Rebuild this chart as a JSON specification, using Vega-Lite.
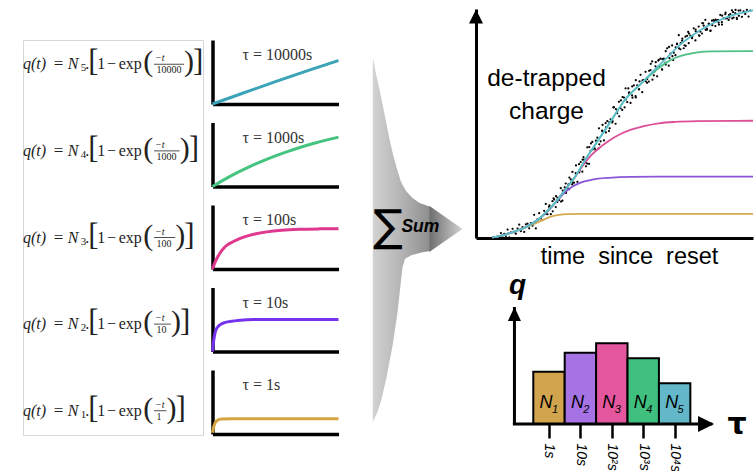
{
"$schema": "https://vega.github.io/schema/vega-lite/v6.json",
"background": "white",
"padding": {"left": 22, "top": 6, "right": 0, "bottom": 0},
"spacing": 0,
"resolve": {"scale": {"color": "independent"}},
"config": {
  "view": {"stroke": "transparent"},
  "axis": {"grid": false, "ticks": false, "labels": false, "domainColor": "#000", "domainWidth": 3, "domainCap": "butt"}
},
"hconcat": [
{
  "spacing": 10,
  "vconcat": [
    {"width": 10, "height": 20, "data": {"values": []}, "mark": "point"},
    {
      "spacing": 1.5,
      "hconcat": [
        {
          "width": 180, "height": 395,
          "view": {"stroke": "#d6d6d6", "strokeWidth": 1},
          "data": {"values": [
            {"n": "5", "den": "10000", "digits": 5},
            {"n": "4", "den": "1000", "digits": 4},
            {"n": "3", "den": "100", "digits": 3},
            {"n": "2", "den": "10", "digits": 2},
            {"n": "1", "den": "1", "digits": 1}
          ]},
          "encoding": {"y": {"field": "n", "type": "ordinal", "sort": "descending", "scale": {"type": "point", "padding": 0.28}, "axis": null}},
          "layer": [
            {"mark": {"type": "text", "text": "q(t)", "font": "Liberation Serif", "fontSize": 16, "fontStyle": "italic", "align": "left", "baseline": "middle", "color": "#222"}, "encoding": {"x": {"value": 0}}},
            {"mark": {"type": "text", "text": "=", "font": "Liberation Serif", "fontSize": 17, "align": "center", "baseline": "middle", "color": "#222"}, "encoding": {"x": {"value": 35.5}}},
            {"mark": {"type": "text", "text": "N", "font": "Liberation Serif", "fontSize": 16, "fontStyle": "italic", "align": "center", "baseline": "middle", "color": "#222"}, "encoding": {"x": {"value": 50}}},
            {"mark": {"type": "text", "font": "Liberation Serif", "fontSize": 11, "align": "center", "baseline": "middle", "dy": 4, "color": "#222"}, "encoding": {"x": {"value": 60.5}, "text": {"field": "n"}}},
            {"mark": {"type": "text", "text": ".", "font": "Liberation Serif", "fontSize": 16, "align": "center", "baseline": "middle", "color": "#222"}, "encoding": {"x": {"value": 64.3}}},
            {"mark": {"type": "text", "text": "[", "font": "Liberation Serif", "fontSize": 31, "align": "center", "baseline": "middle", "dy": -2, "color": "#222"}, "encoding": {"x": {"value": 70.5}}},
            {"mark": {"type": "text", "text": "1", "font": "Liberation Serif", "fontSize": 16, "align": "center", "baseline": "middle", "color": "#222"}, "encoding": {"x": {"value": 78.3}}},
            {"mark": {"type": "text", "text": "−", "font": "Liberation Serif", "fontSize": 16, "align": "center", "baseline": "middle", "color": "#222"}, "encoding": {"x": {"value": 88.5}}},
            {"mark": {"type": "text", "text": "exp", "font": "Liberation Serif", "fontSize": 16, "align": "center", "baseline": "middle", "color": "#222"}, "encoding": {"x": {"value": 107.2}}},
            {"mark": {"type": "text", "text": "(", "font": "Liberation Serif", "fontSize": 30, "align": "center", "baseline": "middle", "dy": -2, "color": "#222"}, "encoding": {"x": {"value": 125.3}}},
            {"mark": {"type": "text", "text": "−t", "font": "Liberation Serif", "fontSize": 10, "fontStyle": "italic", "align": "left", "baseline": "middle", "dy": -6, "color": "#222"}, "encoding": {"x": {"value": 132}}},
            {"mark": {"type": "rule", "strokeWidth": 0.8, "color": "#222"}, "encoding": {"x": {"field": "digits", "type": "quantitative", "scale": {"domain": [1, 5], "range": [143.5, 161], "nice": false}, "axis": null}, "x2": {"value": 131}}},
            {"mark": {"type": "text", "font": "Liberation Serif", "fontSize": 10, "align": "left", "baseline": "middle", "dy": 6, "color": "#222"}, "encoding": {"x": {"value": 133.5}, "text": {"field": "den"}}},
            {"mark": {"type": "text", "text": ")", "font": "Liberation Serif", "fontSize": 30, "align": "left", "baseline": "middle", "dy": -2, "color": "#222"}, "encoding": {"x": {"field": "digits", "type": "quantitative", "scale": {"domain": [1, 5], "range": [143.5, 161], "nice": false}, "axis": null}}},
            {"mark": {"type": "text", "text": "]", "font": "Liberation Serif", "fontSize": 31, "align": "left", "baseline": "middle", "dx": 9, "dy": -2, "color": "#222"}, "encoding": {"x": {"field": "digits", "type": "quantitative", "scale": {"domain": [1, 5], "range": [143.5, 161], "nice": false}, "axis": null}}}
          ]
        },
        {
          "spacing": 10.5,
          "resolve": {"axis": {"x": "independent", "y": "independent"}},
          "data": {"values": [
            {"tau": "10000", "t": 0, "q": 0, "label": "τ = 10000s"},
            {"tau": "10000", "t": 250, "q": 0.176},
            {"tau": "10000", "t": 500, "q": 0.349},
            {"tau": "10000", "t": 750, "q": 0.518},
            {"tau": "10000", "t": 1000, "q": 0.68},
            {"tau": "1000", "t": 0, "q": 0, "label": "τ = 1000s"},
            {"tau": "1000", "t": 100, "q": 0.116},
            {"tau": "1000", "t": 200, "q": 0.221},
            {"tau": "1000", "t": 300, "q": 0.316},
            {"tau": "1000", "t": 400, "q": 0.402},
            {"tau": "1000", "t": 500, "q": 0.48},
            {"tau": "1000", "t": 600, "q": 0.55},
            {"tau": "1000", "t": 700, "q": 0.614},
            {"tau": "1000", "t": 800, "q": 0.672},
            {"tau": "1000", "t": 900, "q": 0.724},
            {"tau": "1000", "t": 1000, "q": 0.771},
            {"tau": "100", "t": 0, "q": 0, "label": "τ = 100s"},
            {"tau": "100", "t": 15, "q": 0.08},
            {"tau": "100", "t": 35, "q": 0.166},
            {"tau": "100", "t": 60, "q": 0.25},
            {"tau": "100", "t": 87, "q": 0.32},
            {"tau": "100", "t": 120, "q": 0.38},
            {"tau": "100", "t": 167, "q": 0.43},
            {"tau": "100", "t": 220, "q": 0.48},
            {"tau": "100", "t": 299, "q": 0.53},
            {"tau": "100", "t": 432, "q": 0.58},
            {"tau": "100", "t": 550, "q": 0.605},
            {"tau": "100", "t": 696, "q": 0.62},
            {"tau": "100", "t": 850, "q": 0.627},
            {"tau": "100", "t": 1000, "q": 0.63},
            {"tau": "10", "t": 0, "q": 0, "label": "τ = 10s"},
            {"tau": "10", "t": 8, "q": 0.15},
            {"tau": "10", "t": 21, "q": 0.3},
            {"tau": "10", "t": 40, "q": 0.38},
            {"tau": "10", "t": 61, "q": 0.42},
            {"tau": "10", "t": 95, "q": 0.45},
            {"tau": "10", "t": 140, "q": 0.47},
            {"tau": "10", "t": 220, "q": 0.49},
            {"tau": "10", "t": 325, "q": 0.5},
            {"tau": "10", "t": 1000, "q": 0.5},
            {"tau": "1", "t": 0, "q": 0.02, "label": "τ = 1s"},
            {"tau": "1", "t": 10, "q": 0.12},
            {"tau": "1", "t": 30, "q": 0.2},
            {"tau": "1", "t": 70, "q": 0.235},
            {"tau": "1", "t": 150, "q": 0.24},
            {"tau": "1", "t": 1000, "q": 0.24}
          ]},
          "facet": {"row": {"field": "tau", "type": "ordinal", "sort": "descending", "header": {"title": null, "labels": false, "labelPadding": 0, "titlePadding": 0}}},
          "spec": {
            "width": 126, "height": 64,
            "layer": [
              {"mark": {"type": "line", "strokeWidth": 3, "interpolate": "monotone"},
               "encoding": {
                 "x": {"field": "t", "type": "quantitative", "scale": {"domain": [0, 1000], "nice": false}, "axis": {"title": null, "domainWidth": 3.5}},
                 "y": {"field": "q", "type": "quantitative", "scale": {"domain": [0, 1], "nice": false}, "axis": {"title": null, "domainWidth": 3.5}},
                 "color": {"field": "tau", "type": "nominal", "scale": {"domain": ["10000", "1000", "100", "10", "1"], "range": ["#3aa3b8", "#45c47f", "#e0388f", "#7633ee", "#d4a540"]}, "legend": null}
               }},
              {"transform": [{"filter": "isValid(datum.label)"}],
               "mark": {"type": "text", "font": "Liberation Serif", "fontSize": 16, "align": "left", "baseline": "middle", "color": "#333"},
               "encoding": {
                 "x": {"datum": 238, "type": "quantitative", "scale": {"domain": [0, 1000], "nice": false}, "axis": {"title": null, "domainWidth": 3.5}},
                 "y": {"datum": 0.76, "type": "quantitative", "scale": {"domain": [0, 1], "nice": false}, "axis": {"title": null, "domainWidth": 3.5}},
                 "text": {"field": "label"}
               }}
            ]
          }
        }
      ]
    }
  ]
},
{
  "width": 121, "height": 461,
  "layer": [
    {"data": {"values": [
      {"v": 89.15, "left": 25.4, "right": 25.6},
      {"v": 85.9, "left": 25.4, "right": 27.7},
      {"v": 82.65, "left": 25.4, "right": 30.2},
      {"v": 79.0, "left": 25.4, "right": 32.6},
      {"v": 75.5, "left": 25.4, "right": 35.0},
      {"v": 71.8, "left": 25.4, "right": 37.4},
      {"v": 68.5, "left": 25.4, "right": 39.9},
      {"v": 65.3, "left": 25.4, "right": 42.8},
      {"v": 62.5, "left": 25.4, "right": 45.7},
      {"v": 60.5, "left": 25.4, "right": 49.3},
      {"v": 59.0, "left": 25.4, "right": 54.0},
      {"v": 57.9, "left": 25.4, "right": 59.0},
      {"v": 57.3, "left": 25.4, "right": 64.7},
      {"v": 57.05, "left": 25.4, "right": 66.4},
      {"v": 47.5, "left": 25.4, "right": 66.4},
      {"v": 47.2, "left": 25.4, "right": 60.4},
      {"v": 46.6, "left": 25.4, "right": 53.2},
      {"v": 45.8, "left": 25.4, "right": 48.6},
      {"v": 44.0, "left": 25.4, "right": 46.8},
      {"v": 41.4, "left": 25.4, "right": 45.8},
      {"v": 34.3, "left": 25.4, "right": 43.2},
      {"v": 26.9, "left": 25.4, "right": 39.6},
      {"v": 19.7, "left": 25.4, "right": 35.0},
      {"v": 15.4, "left": 25.4, "right": 31.7},
      {"v": 12.6, "left": 25.4, "right": 28.8},
      {"v": 10.6, "left": 25.4, "right": 25.6}
    ]},
     "mark": {"type": "area", "orient": "horizontal", "fill": {"gradient": "linear", "x1": 0, "y1": 0, "x2": 1, "y2": 0, "stops": [{"offset": 0, "color": "#d2d2d2"}, {"offset": 0.5, "color": "#b4b4b4"}, {"offset": 1, "color": "#8e8e8e"}]}},
     "encoding": {
       "y": {"field": "v", "type": "quantitative", "scale": {"domain": [0, 100], "nice": false}, "axis": null},
       "x": {"field": "left", "type": "quantitative", "scale": {"domain": [6.12, 93.17], "nice": false}, "axis": null},
       "x2": {"field": "right"}
     }},
    {"data": {"values": [{"u": 66, "top": 57.3, "bot": 47.3}, {"u": 89.9, "top": 52.3, "bot": 52.3}]},
     "mark": {"type": "area", "fill": {"gradient": "linear", "x1": 0, "y1": 0, "x2": 1, "y2": 0, "stops": [{"offset": 0, "color": "#6e6e6e"}, {"offset": 1, "color": "#d2d2d2"}]}},
     "encoding": {
       "x": {"field": "u", "type": "quantitative", "scale": {"domain": [6.12, 93.17], "nice": false}, "axis": null},
       "y": {"field": "top", "type": "quantitative", "scale": {"domain": [0, 100], "nice": false}, "axis": null},
       "y2": {"field": "bot"}
     }},
    {"data": {"values": [{}]},
     "mark": {"type": "text", "text": "∑", "font": "DejaVu Sans", "fontSize": 44, "align": "center", "baseline": "middle", "color": "#000"},
     "encoding": {
       "x": {"datum": 36.2, "type": "quantitative", "scale": {"domain": [6.12, 93.17], "nice": false}, "axis": null},
       "y": {"datum": 52.5, "type": "quantitative", "scale": {"domain": [0, 100], "nice": false}, "axis": null}
     }},
    {"data": {"values": [{}]},
     "mark": {"type": "text", "text": "Sum", "font": "Liberation Sans", "fontSize": 17.5, "fontWeight": "bold", "fontStyle": "italic", "align": "left", "baseline": "middle", "color": "#000"},
     "encoding": {
       "x": {"datum": 46, "type": "quantitative", "scale": {"domain": [6.12, 93.17], "nice": false}, "axis": null},
       "y": {"datum": 52.8, "type": "quantitative", "scale": {"domain": [0, 100], "nice": false}, "axis": null}
     }}
  ]
},
{
  "spacing": 2,
  "resolve": {"scale": {"color": "independent"}},
  "vconcat": [
    {
      "width": 277, "height": 229,
      "layer": [
        {"data": {"values": [
          {"u":9.0,"v":2.14},{"u":9.6,"v":0.2},{"u":10.2,"v":1.8},{"u":10.8,"v":0.89},{"u":11.4,"v":3.7},{"u":12.0,"v":0.3},{"u":12.6,"v":2.43},{"u":13.2,"v":3.99},{"u":13.8,"v":2.46},{"u":14.4,"v":1.9},{"u":15.0,"v":4.15},{"u":15.6,"v":5.81},{"u":16.2,"v":2.96},{"u":16.8,"v":4.73},{"u":17.4,"v":2.67},{"u":18.0,"v":5.98},{"u":18.6,"v":6.31},{"u":19.2,"v":4.24},{"u":19.8,"v":6.55},{"u":20.4,"v":5.38},{"u":21.0,"v":10.13},{"u":21.6,"v":4.18},{"u":22.2,"v":8.13},{"u":22.8,"v":10.82},{"u":23.4,"v":8.53},{"u":24.0,"v":7.84},{"u":24.6,"v":11.85},{"u":25.2,"v":14.86},{"u":25.8,"v":10.37},{"u":26.4,"v":13.58},{"u":27.0,"v":10.39},{"u":27.6,"v":16.1},{"u":28.2,"v":16.81},{"u":28.8,"v":13.53},{"u":29.4,"v":17.54},{"u":30.0,"v":16.55},{"u":30.6,"v":21.76},{"u":31.2,"v":16.28},{"u":31.8,"v":20.69},{"u":32.4,"v":23.8},{"u":33.0,"v":21.77},{"u":33.6,"v":21.33},{"u":34.2,"v":25.6},{"u":34.8,"v":28.87},{"u":35.4,"v":24.15},{"u":36.0,"v":28.37},{"u":36.6,"v":24.52},{"u":37.2,"v":32.23},{"u":37.8,"v":33.19},{"u":38.4,"v":28.95},{"u":39.0,"v":34.19},{"u":39.6,"v":32.94},{"u":40.2,"v":39.62},{"u":40.8,"v":32.39},{"u":41.4,"v":38.02},{"u":42.0,"v":41.97},{"u":42.6,"v":39.16},{"u":43.2,"v":38.43},{"u":43.8,"v":43.8},{"u":44.4,"v":47.88},{"u":45.0,"v":42.22},{"u":45.6,"v":46.57},{"u":46.2,"v":42.6},{"u":46.8,"v":50.2},{"u":47.4,"v":51.04},{"u":48.0,"v":46.68},{"u":48.6,"v":51.81},{"u":49.2,"v":50.44},{"u":49.8,"v":57.12},{"u":50.4,"v":49.89},{"u":51.0,"v":55.52},{"u":51.6,"v":59.47},{"u":52.2,"v":56.66},{"u":52.8,"v":55.93},{"u":53.4,"v":61.3},{"u":54.0,"v":65.38},{"u":54.6,"v":59.34},{"u":55.2,"v":63.32},{"u":55.8,"v":58.97},{"u":56.4,"v":66.2},{"u":57.0,"v":66.66},{"u":57.6,"v":61.93},{"u":58.2,"v":66.68},{"u":58.8,"v":64.94},{"u":59.4,"v":71.27},{"u":60.0,"v":63.68},{"u":60.6,"v":68.97},{"u":61.2,"v":72.57},{"u":61.8,"v":69.41},{"u":62.4,"v":68.32},{"u":63.0,"v":73.35},{"u":63.6,"v":77.08},{"u":64.2,"v":71.03},{"u":64.8,"v":74.99},{"u":65.4,"v":70.63},{"u":66.0,"v":77.84},{"u":66.6,"v":78.29},{"u":67.2,"v":73.54},{"u":67.8,"v":78.28},{"u":68.4,"v":76.52},{"u":69.0,"v":82.83},{"u":69.6,"v":75.24},{"u":70.2,"v":80.51},{"u":70.8,"v":84.1},{"u":71.4,"v":80.92},{"u":72.0,"v":79.83},{"u":72.6,"v":84.84},{"u":73.2,"v":88.56},{"u":73.8,"v":82.38},{"u":74.4,"v":86.18},{"u":75.0,"v":82.86},{"u":75.6,"v":87.91},{"u":76.2,"v":88.28},{"u":76.8,"v":85.05},{"u":77.4,"v":88.39},{"u":78.0,"v":87.23},{"u":78.6,"v":91.58},{"u":79.2,"v":86.28},{"u":79.8,"v":89.89},{"u":80.4,"v":92.33},{"u":81.0,"v":90.1},{"u":81.6,"v":89.3},{"u":82.2,"v":92.73},{"u":82.8,"v":95.26},{"u":83.4,"v":90.96},{"u":84.0,"v":93.57},{"u":84.6,"v":90.43},{"u":85.2,"v":94.89},{"u":85.8,"v":95.11},{"u":86.4,"v":92.53},{"u":87.0,"v":95.07},{"u":87.6,"v":94.1},{"u":88.2,"v":97.4},{"u":88.8,"v":93.19},{"u":89.4,"v":95.92},{"u":90.0,"v":97.73},{"u":90.6,"v":95.91},{"u":91.2,"v":95.2},{"u":91.8,"v":97.79},{"u":92.4,"v":99.4},{"u":93.0,"v":96.24},{"u":93.6,"v":98.17},{"u":94.2,"v":95.63},{"u":94.8,"v":99.3},{"u":95.4,"v":99.37},{"u":96.0,"v":96.61},{"u":96.6,"v":98.97},{"u":97.2,"v":97.83},{"u":97.8,"v":99.6},{"u":98.4,"v":96.68},{"u":99.0,"v":99.28},
          {"u":25.3,"v":10.48},{"u":26.5,"v":14.3},{"u":27.7,"v":11.65},{"u":28.9,"v":18.28},{"u":30.1,"v":17.6},{"u":31.3,"v":20.73},{"u":32.5,"v":19.66},{"u":33.7,"v":26.39},{"u":34.9,"v":24.13},{"u":36.1,"v":28.05},{"u":37.3,"v":28.67},{"u":38.5,"v":34.22},{"u":39.7,"v":31.3},{"u":40.9,"v":39.72},{"u":42.1,"v":38.64},{"u":43.3,"v":42.51},{"u":44.5,"v":40.91},{"u":45.7,"v":49.35},{"u":46.9,"v":46.09},{"u":48.1,"v":50.63},{"u":49.3,"v":51.01},{"u":50.5,"v":56.31},{"u":51.7,"v":53.15},{"u":52.9,"v":61.57},{"u":54.1,"v":60.43},{"u":55.3,"v":63.57},{"u":56.5,"v":61.25},{"u":57.7,"v":68.94},{"u":58.9,"v":64.93},{"u":60.1,"v":68.75},{"u":61.3,"v":68.4},{"u":62.5,"v":73.0},{"u":63.7,"v":69.14},{"u":64.9,"v":76.8},{"u":66.1,"v":74.97},{"u":67.3,"v":78.08},{"u":68.5,"v":75.73},{"u":69.7,"v":83.42},{"u":70.9,"v":79.41},{"u":72.1,"v":83.2},{"u":73.3,"v":82.83},{"u":74.5,"v":87.05},{"u":75.7,"v":83.86},{"u":76.9,"v":89.28},{"u":78.1,"v":88.13},{"u":79.3,"v":90.23},{"u":80.5,"v":88.54},{"u":81.7,"v":93.79},{"u":82.9,"v":90.93},{"u":84.1,"v":93.27},{"u":85.3,"v":92.92},{"u":86.5,"v":95.32},{"u":87.7,"v":93.18},{"u":88.9,"v":97.09},{"u":90.1,"v":95.89},{"u":91.3,"v":97.35},{"u":92.5,"v":95.87},{"u":93.7,"v":99.6},{"u":94.9,"v":97.04},
          {"u":28.0,"v":17.31},{"u":29.35,"v":15.76},{"u":30.7,"v":15.92},{"u":32.05,"v":22.07},{"u":33.4,"v":23.41},{"u":34.75,"v":23.39},{"u":36.1,"v":31.69},{"u":37.45,"v":29.49},{"u":38.8,"v":35.35},{"u":40.15,"v":32.51},{"u":41.5,"v":41.32},{"u":42.85,"v":39.09},{"u":44.2,"v":39.07},{"u":45.55,"v":46.87},{"u":46.9,"v":48.3},{"u":48.25,"v":47.92},{"u":49.6,"v":57.02},{"u":50.95,"v":54.52},{"u":52.3,"v":60.09},{"u":53.65,"v":57.08},{"u":55.0,"v":65.29},{"u":56.35,"v":62.24},{"u":57.7,"v":61.4},{"u":59.05,"v":68.37},{"u":60.4,"v":68.99},{"u":61.75,"v":67.79},{"u":63.1,"v":76.07},{"u":64.45,"v":72.76},{"u":65.8,"v":77.47},{"u":67.15,"v":73.61},{"u":68.5,"v":81.58},{"u":69.85,"v":78.53},{"u":71.2,"v":77.69},{"u":72.55,"v":84.65},{"u":73.9,"v":85.07},{"u":75.25,"v":84.17},{"u":76.6,"v":90.0},{"u":77.95,"v":87.81},{"u":79.3,"v":91.04},{"u":80.65,"v":88.3},{"u":82.0,"v":93.75},{"u":83.35,"v":91.47},{"u":84.7,"v":90.58},{"u":86.05,"v":94.84},{"u":87.4,"v":95.1},{"u":88.75,"v":94.22},{"u":90.1,"v":98.41},{"u":91.45,"v":96.37},{"u":92.8,"v":98.62},{"u":94.15,"v":96.11}
        ]},
         "mark": {"type": "point", "filled": true, "size": 5, "color": "#000", "opacity": 1},
         "encoding": {
           "x": {"field": "u", "type": "quantitative", "scale": {"domain": [0, 100], "nice": false}, "axis": {"title": "time\u00a0\u00a0since\u00a0\u00a0reset", "titleFont": "Liberation Sans", "titleFontSize": 23.5, "titleFontWeight": "normal", "titleColor": "#000", "titleX": 153, "titleY": 18, "titleAlign": "center", "titleBaseline": "middle"}},
           "y": {"field": "v", "type": "quantitative", "scale": {"domain": [0, 100], "nice": false}, "axis": {"title": null}}
         }},
        {"data": {"values": [
          {"s":"s1","u":5.9,"v":0.3},{"s":"s1","u":10,"v":1.3},{"s":"s1","u":13.1,"v":2.5},{"s":"s1","u":17.9,"v":4.7},{"s":"s1","u":21,"v":6.2},{"s":"s1","u":24,"v":7.8},{"s":"s1","u":27,"v":9.3},{"s":"s1","u":30,"v":10.1},{"s":"s1","u":33,"v":10.4},{"s":"s1","u":38,"v":10.5},{"s":"s1","u":100,"v":10.5},
          {"s":"s2","u":5.9,"v":0.3},{"s":"s2","u":10,"v":1.3},{"s":"s2","u":13.1,"v":2.5},{"s":"s2","u":17.9,"v":4.7},{"s":"s2","u":22.7,"v":8.3},{"s":"s2","u":26,"v":11.8},{"s":"s2","u":29,"v":15.8},{"s":"s2","u":32,"v":19.8},{"s":"s2","u":35,"v":22.6},{"s":"s2","u":38,"v":24.3},{"s":"s2","u":42,"v":25.5},{"s":"s2","u":48,"v":26.3},{"s":"s2","u":56,"v":26.7},{"s":"s2","u":70,"v":26.8},{"s":"s2","u":100,"v":26.8},
          {"s":"s3","u":5.9,"v":0.3},{"s":"s3","u":10,"v":1.3},{"s":"s3","u":13.1,"v":2.5},{"s":"s3","u":17.9,"v":4.7},{"s":"s3","u":22.7,"v":8.3},{"s":"s3","u":27.6,"v":14.1},{"s":"s3","u":32.4,"v":21.4},{"s":"s3","u":36,"v":27.0},{"s":"s3","u":39.6,"v":33.3},{"s":"s3","u":42,"v":36.6},{"s":"s3","u":45,"v":39.8},{"s":"s3","u":48,"v":42.5},{"s":"s3","u":52,"v":45.3},{"s":"s3","u":56,"v":47.3},{"s":"s3","u":61,"v":49.0},{"s":"s3","u":66,"v":50.1},{"s":"s3","u":72,"v":50.7},{"s":"s3","u":80,"v":51.0},{"s":"s3","u":100,"v":51.2},
          {"s":"s4","u":5.9,"v":0.3},{"s":"s4","u":10,"v":1.3},{"s":"s4","u":13.1,"v":2.5},{"s":"s4","u":17.9,"v":4.7},{"s":"s4","u":22.7,"v":8.3},{"s":"s4","u":27.6,"v":14.1},{"s":"s4","u":32.4,"v":21.4},{"s":"s4","u":36,"v":27.2},{"s":"s4","u":39.6,"v":34.5},{"s":"s4","u":44.4,"v":43.2},{"s":"s4","u":49.2,"v":52.0},{"s":"s4","u":54,"v":60.7},{"s":"s4","u":58.8,"v":66.5},{"s":"s4","u":61.5,"v":69.6},{"s":"s4","u":63.6,"v":71.8},{"s":"s4","u":66,"v":74.2},{"s":"s4","u":69,"v":76.8},{"s":"s4","u":72,"v":78.7},{"s":"s4","u":76,"v":80.2},{"s":"s4","u":80,"v":81.1},{"s":"s4","u":85,"v":81.5},{"s":"s4","u":100,"v":81.6},
          {"s":"s5","u":5.9,"v":0.3},{"s":"s5","u":10,"v":1.3},{"s":"s5","u":13.1,"v":2.5},{"s":"s5","u":17.9,"v":4.7},{"s":"s5","u":22.7,"v":8.3},{"s":"s5","u":27.6,"v":14.1},{"s":"s5","u":32.4,"v":21.4},{"s":"s5","u":36,"v":27.2},{"s":"s5","u":39.6,"v":34.5},{"s":"s5","u":44.4,"v":43.2},{"s":"s5","u":49.2,"v":52.0},{"s":"s5","u":54,"v":60.7},{"s":"s5","u":58.8,"v":66.5},{"s":"s5","u":63.6,"v":72.4},{"s":"s5","u":68.5,"v":78.2},{"s":"s5","u":73.3,"v":84.0},{"s":"s5","u":78.1,"v":88.4},{"s":"s5","u":82.9,"v":92.1},{"s":"s5","u":87.7,"v":95.0},{"s":"s5","u":92.5,"v":97.2},{"s":"s5","u":97.3,"v":98.7},{"s":"s5","u":100,"v":99.4}
        ]},
         "mark": {"type": "line", "strokeWidth": 1.8, "interpolate": "monotone"},
         "encoding": {
           "x": {"field": "u", "type": "quantitative", "scale": {"domain": [0, 100], "nice": false}, "axis": {"title": "time\u00a0\u00a0since\u00a0\u00a0reset", "titleFont": "Liberation Sans", "titleFontSize": 23.5, "titleFontWeight": "normal", "titleColor": "#000", "titleX": 153, "titleY": 18, "titleAlign": "center", "titleBaseline": "middle"}},
           "y": {"field": "v", "type": "quantitative", "scale": {"domain": [0, 100], "nice": false}, "axis": {"title": null}},
           "color": {"field": "s", "type": "nominal", "scale": {"domain": ["s1", "s2", "s3", "s4", "s5"], "range": ["#d4a94e", "#8a55d6", "#dd4f97", "#4fbf85", "#5bbccb"]}, "legend": null}
         }},
        {"data": {"values": [{}]},
         "mark": {"type": "text", "text": ["de-trapped", "charge"], "font": "Liberation Sans", "fontSize": 24.5, "lineHeight": 33.4, "align": "center", "baseline": "middle", "color": "#000"},
         "encoding": {
           "x": {"datum": 25.45, "type": "quantitative", "scale": {"domain": [0, 100], "nice": false}},
           "y": {"datum": 69.4, "type": "quantitative", "scale": {"domain": [0, 100], "nice": false}}
         }},
        {"data": {"values": [{}]},
         "mark": {"type": "point", "shape": "M0,-1L1,1L-1,1Z", "size": 196, "filled": true, "color": "#000", "opacity": 1},
         "encoding": {
           "x": {"datum": 0, "type": "quantitative", "scale": {"domain": [0, 100], "nice": false}},
           "y": {"datum": 96.7, "type": "quantitative", "scale": {"domain": [0, 100], "nice": false}}
         }}
      ]
    },
    {
      "width": 239, "height": 117,
      "data": {"values": [
        {"n": "1", "c": 0, "lo": -0.5, "hi": 0.5, "q": 44.7},
        {"n": "2", "c": 1, "lo": 0.5, "hi": 1.5, "q": 60.9},
        {"n": "3", "c": 2, "lo": 1.5, "hi": 2.5, "q": 69.0},
        {"n": "4", "c": 3, "lo": 2.5, "hi": 3.5, "q": 56.2},
        {"n": "5", "c": 4, "lo": 3.5, "hi": 4.5, "q": 34.8}
      ]},
      "layer": [
        {"mark": {"type": "rect", "stroke": "#000", "strokeWidth": 2},
         "encoding": {
           "x": {"field": "lo", "type": "quantitative", "scale": {"domain": [-2.324, 5.285], "nice": false}, "axis": {"domain": false, "values": [0, 1, 2, 3, 4], "ticks": true, "tickSize": 14, "tickWidth": 2.5, "tickColor": "#000", "labels": true, "labelOverlap": false, "labelExpr": "['1s','10s','10²s','10³s','10⁴s'][datum.value]", "labelAngle": 90, "labelAlign": "left", "labelBaseline": "middle", "labelPadding": 5, "labelFont": "Liberation Sans", "labelFontSize": 14, "labelFontStyle": "italic", "labelColor": "#000", "title": "τ", "titleFont": "DejaVu Sans", "titleFontSize": 30, "titleFontWeight": "bold", "titleColor": "#000", "titleX": 260.5, "titleY": 0, "titleAngle": 0, "titleAlign": "center", "titleBaseline": "middle"}},
           "x2": {"field": "hi"},
           "y": {"field": "q", "type": "quantitative", "scale": {"domain": [0, 100], "nice": false}, "axis": {"domain": false, "title": "q", "titleFont": "Liberation Sans", "titleFontSize": 28, "titleFontWeight": "bold", "titleFontStyle": "italic", "titleColor": "#000", "titleAngle": 0, "titleX": 41, "titleY": -14, "titleAlign": "center", "titleBaseline": "alphabetic"}},
           "y2": {"datum": 0},
           "color": {"field": "n", "type": "nominal", "scale": {"domain": ["1", "2", "3", "4", "5"], "range": ["#d2a44e", "#a673e4", "#e4579e", "#40c07e", "#62b7c9"]}, "legend": null}
         }},
        {"mark": {"type": "text", "text": "N", "font": "Liberation Sans", "fontSize": 18, "fontStyle": "italic", "align": "center", "baseline": "middle", "dx": -3, "color": "#000"},
         "encoding": {
           "x": {"field": "c", "type": "quantitative", "scale": {"domain": [-2.324, 5.285], "nice": false}},
           "y": {"datum": 18, "type": "quantitative", "scale": {"domain": [0, 100], "nice": false}}
         }},
        {"mark": {"type": "text", "font": "Liberation Sans", "fontSize": 11, "fontStyle": "italic", "align": "center", "baseline": "middle", "dx": 6, "dy": 7, "color": "#000"},
         "encoding": {
           "x": {"field": "c", "type": "quantitative", "scale": {"domain": [-2.324, 5.285], "nice": false}},
           "y": {"datum": 18, "type": "quantitative", "scale": {"domain": [0, 100], "nice": false}},
           "text": {"field": "n"}
         }},
        {"data": {"values": [{}]},
         "mark": {"type": "rule", "strokeWidth": 3, "color": "#000"},
         "encoding": {
           "x": {"datum": -1.1, "type": "quantitative", "scale": {"domain": [-2.324, 5.285], "nice": false}},
           "y": {"datum": 0, "type": "quantitative", "scale": {"domain": [0, 100], "nice": false}},
           "y2": {"datum": 100}
         }},
        {"data": {"values": [{}]},
         "mark": {"type": "rule", "strokeWidth": 3, "color": "#000"},
         "encoding": {
           "x": {"datum": -1.15, "type": "quantitative", "scale": {"domain": [-2.324, 5.285], "nice": false}},
           "x2": {"datum": 5.2},
           "y": {"datum": 0, "type": "quantitative", "scale": {"domain": [0, 100], "nice": false}}
         }},
        {"data": {"values": [{}]},
         "mark": {"type": "point", "shape": "M0,-1.15L1,1L-1,1Z", "size": 169, "filled": true, "color": "#000", "opacity": 1},
         "encoding": {
           "x": {"datum": -1.1, "type": "quantitative", "scale": {"domain": [-2.324, 5.285], "nice": false}},
           "y": {"datum": 93.6, "type": "quantitative", "scale": {"domain": [0, 100], "nice": false}}
         }},
        {"data": {"values": [{}]},
         "mark": {"type": "point", "shape": "M1,0L-1,-1L-1,1Z", "size": 256, "filled": true, "color": "#000", "opacity": 1},
         "encoding": {
           "x": {"datum": 5.0, "type": "quantitative", "scale": {"domain": [-2.324, 5.285], "nice": false}},
           "y": {"datum": 0, "type": "quantitative", "scale": {"domain": [0, 100], "nice": false}}
         }}
      ]
    }
  ]
}
]
}
